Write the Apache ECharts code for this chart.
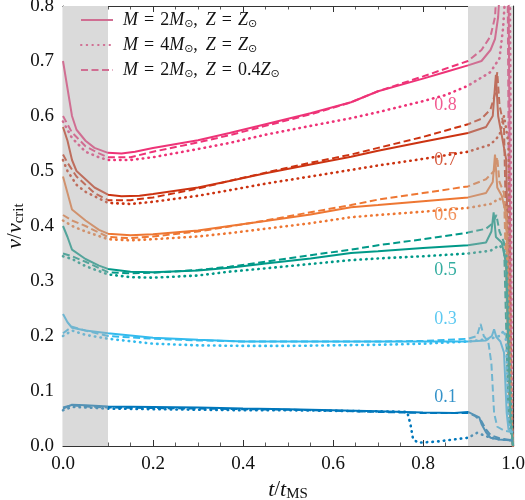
<!DOCTYPE html>
<html>
<head>
<meta charset="utf-8">
<script src="https://cdn.jsdelivr.net/npm/echarts/dist/echarts.min.js"></script>
<style>
  html, body { margin: 0; padding: 0; background: #fff; }
  #chart { width: 525px; height: 500px; }
</style>
</head>
<body>
<div id="chart"></div>
<script>
// curves, [t/t_MS, v/v_crit]
// 0.8 group
const pinkSolid = [[0,0.70],[0.01,0.65],[0.02,0.60],[0.03,0.575],[0.05,0.555],[0.07,0.542],[0.1,0.533],[0.13,0.532],[0.16,0.535],[0.2,0.542],[0.3,0.556],[0.37,0.569],[0.45,0.585],[0.55,0.605],[0.64,0.625],[0.7,0.645],[0.8,0.668],[0.85,0.68],[0.9,0.692],[0.93,0.70],[0.95,0.72],[0.96,0.74],[0.967,0.78],[0.972,0.85],[0.99,0.86],[0.996,0.05],[1.0,0.0]];
const pinkDotted = [[0,0.59],[0.01,0.575],[0.02,0.56],[0.05,0.535],[0.08,0.525],[0.1,0.52],[0.15,0.52],[0.2,0.525],[0.3,0.54],[0.37,0.551],[0.45,0.566],[0.55,0.582],[0.64,0.596],[0.7,0.607],[0.8,0.627],[0.85,0.638],[0.9,0.655],[0.95,0.68],[0.97,0.705],[0.978,0.76],[0.985,0.85],[0.993,0.85],[0.998,0.04],[1.0,0.0]];
const pinkDashed = [[0,0.60],[0.01,0.585],[0.02,0.57],[0.05,0.545],[0.08,0.532],[0.1,0.525],[0.15,0.525],[0.2,0.535],[0.3,0.552],[0.37,0.565],[0.45,0.582],[0.55,0.603],[0.64,0.625],[0.7,0.645],[0.8,0.672],[0.9,0.70],[0.93,0.72],[0.95,0.745],[0.96,0.78],[0.965,0.85],[0.988,0.85],[0.994,0.05],[1.0,0.0]];
// 0.7 group
const redSolid = [[0,0.58],[0.01,0.555],[0.02,0.52],[0.03,0.50],[0.05,0.485],[0.07,0.47],[0.1,0.457],[0.13,0.454],[0.17,0.455],[0.2,0.458],[0.3,0.47],[0.37,0.482],[0.45,0.496],[0.55,0.512],[0.64,0.526],[0.7,0.537],[0.8,0.553],[0.9,0.569],[0.94,0.58],[0.955,0.6],[0.962,0.675],[0.967,0.6],[0.975,0.565],[0.985,0.52],[0.994,0.08],[1.0,0.0]];
const redDotted = [[0,0.52],[0.01,0.50],[0.03,0.475],[0.05,0.462],[0.1,0.442],[0.15,0.44],[0.2,0.444],[0.3,0.455],[0.37,0.465],[0.45,0.477],[0.55,0.49],[0.64,0.502],[0.7,0.51],[0.8,0.522],[0.9,0.535],[0.95,0.548],[0.97,0.565],[0.98,0.6],[0.99,0.55],[0.997,0.05],[1.0,0.0]];
const redDashed = [[0,0.53],[0.01,0.515],[0.03,0.49],[0.05,0.475],[0.07,0.46],[0.1,0.447],[0.15,0.447],[0.2,0.452],[0.3,0.468],[0.37,0.482],[0.45,0.497],[0.55,0.515],[0.64,0.53],[0.7,0.542],[0.8,0.562],[0.9,0.585],[0.93,0.595],[0.95,0.612],[0.96,0.64],[0.965,0.68],[0.97,0.62],[0.98,0.58],[0.992,0.1],[1.0,0.0]];
// 0.6 group
const orangeSolid = [[0,0.49],[0.01,0.46],[0.02,0.43],[0.05,0.41],[0.08,0.393],[0.1,0.386],[0.15,0.383],[0.2,0.385],[0.3,0.392],[0.37,0.40],[0.45,0.409],[0.55,0.421],[0.64,0.434],[0.7,0.438],[0.8,0.445],[0.9,0.452],[0.94,0.46],[0.955,0.48],[0.96,0.53],[0.965,0.47],[0.975,0.455],[0.985,0.42],[0.995,0.05],[1.0,0.0]];
const orangeDotted = [[0,0.41],[0.02,0.40],[0.05,0.39],[0.1,0.376],[0.15,0.374],[0.2,0.376],[0.3,0.381],[0.37,0.387],[0.45,0.395],[0.55,0.405],[0.64,0.416],[0.7,0.42],[0.8,0.426],[0.9,0.433],[0.95,0.44],[0.97,0.45],[0.985,0.44],[0.997,0.04],[1.0,0.0]];
const orangeDashed = [[0,0.42],[0.02,0.41],[0.05,0.40],[0.1,0.38],[0.15,0.378],[0.2,0.381],[0.3,0.39],[0.37,0.399],[0.45,0.41],[0.55,0.425],[0.64,0.438],[0.7,0.448],[0.8,0.46],[0.9,0.472],[0.94,0.485],[0.958,0.5],[0.965,0.525],[0.97,0.48],[0.98,0.46],[0.992,0.08],[1.0,0.0]];
// 0.5 group
const tealSolid = [[0,0.40],[0.01,0.38],[0.02,0.357],[0.05,0.34],[0.08,0.328],[0.1,0.322],[0.15,0.317],[0.2,0.316],[0.3,0.319],[0.37,0.324],[0.45,0.332],[0.55,0.341],[0.64,0.351],[0.7,0.354],[0.8,0.36],[0.9,0.365],[0.94,0.37],[0.952,0.39],[0.957,0.425],[0.962,0.38],[0.975,0.37],[0.985,0.33],[0.994,0.05],[1.0,0.0]];
const tealDotted = [[0,0.345],[0.02,0.34],[0.05,0.327],[0.1,0.312],[0.15,0.307],[0.2,0.306],[0.3,0.31],[0.37,0.317],[0.45,0.323],[0.55,0.331],[0.64,0.338],[0.7,0.341],[0.8,0.345],[0.9,0.35],[0.95,0.355],[0.97,0.365],[0.985,0.35],[0.997,0.04],[1.0,0.0]];
const tealDashed = [[0,0.35],[0.02,0.345],[0.05,0.335],[0.1,0.316],[0.15,0.314],[0.2,0.315],[0.3,0.32],[0.37,0.326],[0.45,0.335],[0.55,0.347],[0.64,0.357],[0.7,0.365],[0.8,0.376],[0.9,0.388],[0.94,0.395],[0.955,0.405],[0.963,0.42],[0.97,0.39],[0.98,0.37],[0.99,0.05],[1.0,0.0]];
// 0.3 group
const cyanSolid = [[0,0.24],[0.01,0.225],[0.02,0.215],[0.05,0.21],[0.1,0.205],[0.2,0.197],[0.3,0.193],[0.4,0.19],[0.5,0.19],[0.6,0.19],[0.7,0.19],[0.8,0.19],[0.9,0.19],[0.94,0.192],[0.953,0.2],[0.958,0.212],[0.963,0.198],[0.972,0.19],[0.98,0.17],[0.986,0.06],[0.99,0.03],[1.0,0.025]];
const cyanDotted = [[0,0.20],[0.02,0.21],[0.05,0.202],[0.1,0.195],[0.2,0.186],[0.3,0.183],[0.4,0.182],[0.5,0.182],[0.6,0.183],[0.7,0.184],[0.8,0.186],[0.9,0.19],[0.95,0.195],[0.97,0.2],[0.98,0.21],[0.985,0.19],[0.99,0.05],[0.995,0.025],[1.0,0.02]];
const cyanDashed = [[0,0.205],[0.02,0.217],[0.05,0.21],[0.1,0.2],[0.2,0.195],[0.3,0.192],[0.4,0.19],[0.5,0.19],[0.6,0.19],[0.7,0.19],[0.8,0.191],[0.9,0.195],[0.92,0.2],[0.928,0.222],[0.935,0.2],[0.945,0.19],[0.952,0.15],[0.958,0.06],[0.965,0.035],[0.98,0.028],[1.0,0.025]];
// 0.1 group
const blueSolid = [[0,0.068],[0.02,0.075],[0.05,0.074],[0.1,0.072],[0.2,0.071],[0.3,0.07],[0.4,0.068],[0.5,0.067],[0.6,0.065],[0.7,0.063],[0.8,0.061],[0.87,0.06],[0.9,0.062],[0.91,0.058],[0.925,0.052],[0.93,0.04],[0.94,0.025],[0.95,0.015],[0.97,0.012],[1.0,0.01]];
const blueDotted = [[0,0.065],[0.02,0.071],[0.05,0.07],[0.1,0.068],[0.2,0.067],[0.3,0.066],[0.4,0.065],[0.5,0.065],[0.6,0.064],[0.7,0.063],[0.765,0.062],[0.772,0.04],[0.778,0.012],[0.79,0.006],[0.83,0.008],[0.87,0.012],[0.9,0.015],[0.92,0.024],[0.95,0.015],[0.97,0.012],[1.0,0.01]];
const blueDashed = [[0,0.07],[0.02,0.074],[0.05,0.072],[0.1,0.07],[0.2,0.069],[0.3,0.068],[0.4,0.067],[0.5,0.066],[0.6,0.064],[0.7,0.062],[0.8,0.06],[0.9,0.06],[0.915,0.055],[0.93,0.045],[0.94,0.03],[0.95,0.02],[0.97,0.014],[1.0,0.01]];

const groupNames = ['0.8', '0.7', '0.6', '0.5', '0.3', '0.1'];
const groupColors = ['#EE3377', '#CC3311', '#EE7733', '#009988', '#33BBEE', '#0077BB'];
// same colours as they look inside the grey bands
const mutedColors = ['#d06e92', '#be6e5d', '#d0926e', '#54a49b', '#6fb5d0', '#5492b5'];
const solidCurves = [pinkSolid, redSolid, orangeSolid, tealSolid, cyanSolid, blueSolid];
const dottedCurves = [pinkDotted, redDotted, orangeDotted, tealDotted, cyanDotted, blueDotted];
const dashedCurves = [pinkDashed, redDashed, orangeDashed, tealDashed, cyanDashed, blueDashed];

// annotation positions for the group labels
const labelT = [0.85, 0.85, 0.85, 0.85, 0.85, 0.85];
const labelV = [0.62, 0.52, 0.42, 0.32, 0.231, 0.089];

const shadedSpans = [[0, 0.1], [0.9, 1.0]];

const legendNames = ['M2', 'M4', 'Z04'];
const legendText = {
  M2: '{i|M}{e|=}2{i|M}{s|⊙}{c|,}{i|Z}{e|=}{i|Z}{s|⊙}',
  M4: '{i|M}{e|=}4{i|M}{s|⊙}{c|,}{i|Z}{e|=}{i|Z}{s|⊙}',
  Z04: '{i|M}{e|=}2{i|M}{s|⊙}{c|,}{i|Z}{e|=}0.4{i|Z}{s|⊙}'
};
const legendColor = '#d06e92';

const FONT = 'Liberation Serif';
const lineStyles = {
  solid: { width: 2, type: 'solid' },
  dotted: { width: 2.6, type: [0.5, 5.2], cap: 'round' },
  dashed: { width: 2, type: [7, 3.5] }
};

var chart = echarts.init(document.getElementById('chart'));

const series = [];
const visualMaps = [];
groupNames.forEach((g, i) => {
  [['solid', solidCurves[i], 'M2'], ['dotted', dottedCurves[i], 'M4'], ['dashed', dashedCurves[i], 'Z04']].forEach(([kind, pts, lname]) => {
    series.push({
      type: 'line',
      name: i === 0 ? lname : g + ' ' + kind,
      data: pts,
      symbol: 'none',
      silent: true,
      z: 3,
      color: groupColors[i],
      lineStyle: Object.assign({}, lineStyles[kind])
    });
  });
  // vivid between the bands, muted inside them
  visualMaps.push({
    type: 'piecewise',
    show: false,
    dimension: 0,
    seriesIndex: [3 * i, 3 * i + 1, 3 * i + 2],
    pieces: [
      { lt: shadedSpans[0][1], color: mutedColors[i] },
      { gte: shadedSpans[0][1], lt: shadedSpans[1][0], color: groupColors[i] },
      { gte: shadedSpans[1][0], color: mutedColors[i] }
    ]
  });
});

series.push({
  type: 'line',
  name: 'bands',
  data: [],
  silent: true,
  z: 1,
  markArea: {
    silent: true,
    itemStyle: { color: '#dadada' },
    data: shadedSpans.map(s => [{ xAxis: s[0] }, { xAxis: s[1] }])
  }
});

series.push({
  type: 'scatter',
  name: 'labels',
  symbolSize: 0,
  silent: true,
  z: 4,
  data: groupNames.map((g, i) => ({
    value: [labelT[i], labelV[i]],
    label: { show: true, formatter: g, position: 'inside', color: groupColors[i], fontFamily: FONT, fontSize: 18 }
  }))
});

const axisCommon = {
  type: 'value',
  axisLine: { show: true, onZero: false, lineStyle: { color: '#333', width: 1.2 } },
  axisTick: { show: true, inside: true, length: 6, lineStyle: { color: '#333', width: 1 } },
  minorTick: { show: true, length: 3.5, lineStyle: { color: '#333', width: 0.8 } },
  splitLine: { show: false },
  minorSplitLine: { show: false }
};

const nameStyle = {
  fontFamily: FONT, fontSize: 21, color: '#111',
  rich: {
    i: { fontFamily: FONT, fontSize: 22, fontStyle: 'italic', color: '#111' },
    s: { fontFamily: FONT, fontSize: 15, color: '#111', padding: [9, 0, 0, 0] }
  }
};

const option = {
  backgroundColor: '#fff',
  animation: false,
  grid: { left: 63, right: 12, top: 6, bottom: 54, containLabel: false, outerBoundsMode: 'none' },
  visualMap: visualMaps,
  legend: {
    data: legendNames.map(n => ({ name: n, lineStyle: { color: legendColor, opacity: 1 }, itemStyle: { color: legendColor, opacity: 0 } })),
    orient: 'vertical',
    left: 75,
    top: 6,
    itemWidth: 32,
    itemHeight: 14,
    itemGap: 6,
    selectedMode: false,
    formatter: n => legendText[n],
    itemStyle: { opacity: 0 },
    textStyle: {
      fontFamily: FONT, fontSize: 18, color: '#111', padding: [0, 0, 0, 5],
      rich: {
        i: { fontFamily: FONT, fontSize: 18, fontStyle: 'italic', color: '#111' },
        e: { fontFamily: FONT, fontSize: 18, color: '#111', padding: [0, 6, 0, 6] },
        c: { fontFamily: FONT, fontSize: 18, color: '#111', padding: [0, 8, 0, 0] },
        s: { fontFamily: 'DejaVu Sans', fontSize: 11, color: '#111', padding: [9, 0, 0, 0] }
      }
    }
  },
  xAxis: [
    Object.assign({}, axisCommon, {
      min: 0, max: 1, interval: 0.2, position: 'bottom',
      minorTick: Object.assign({}, axisCommon.minorTick, { splitNumber: 4 }),
      axisLabel: { formatter: v => v.toFixed(1), fontFamily: FONT, fontSize: 19, color: '#111', margin: 9 },
      name: '{i|t}/{i|t}{s|MS}',
      nameLocation: 'middle',
      nameGap: 25,
      nameTextStyle: nameStyle
    }),
    Object.assign({}, axisCommon, {
      min: 0, max: 1, interval: 0.2, position: 'top',
      minorTick: Object.assign({}, axisCommon.minorTick, { splitNumber: 4 }),
      axisLabel: { show: false }
    })
  ],
  yAxis: [
    Object.assign({}, axisCommon, {
      min: 0, max: 0.8, interval: 0.1, position: 'left',
      minorTick: Object.assign({}, axisCommon.minorTick, { splitNumber: 5 }),
      axisLabel: { formatter: v => v.toFixed(1), fontFamily: FONT, fontSize: 19, color: '#111', margin: 9 },
      name: '{i|v}/{i|v}{s|crit}',
      nameLocation: 'middle',
      nameGap: 36,
      nameMoveOverlap: false,
      nameRotate: 90,
      nameTextStyle: nameStyle
    }),
    Object.assign({}, axisCommon, {
      min: 0, max: 0.8, interval: 0.1, position: 'right',
      minorTick: Object.assign({}, axisCommon.minorTick, { splitNumber: 5 }),
      axisLabel: { show: false }
    })
  ],
  series: series
};

chart.setOption(option);
</script>
</body>
</html>
